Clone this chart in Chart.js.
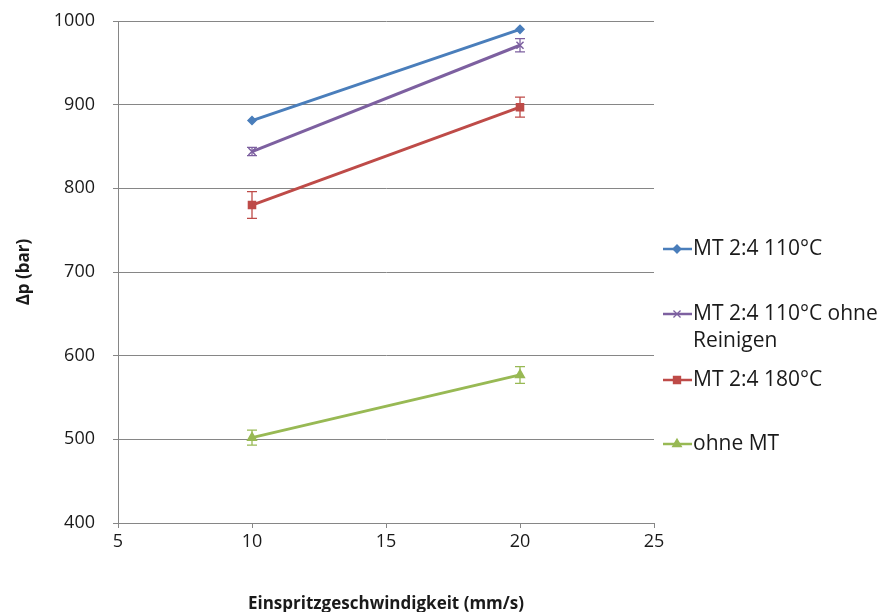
<!DOCTYPE html>
<html>
<head>
<meta charset="utf-8">
<script src="https://cdn.jsdelivr.net/npm/chart.js@4"></script>
<style>
  html, body { margin: 0; padding: 0; background: #fff; }
  #wrap { width: 881px; height: 612px; }
</style>
</head>
<body>
<div id="wrap"><canvas id="chart" width="881" height="612"></canvas></div>
<script>
// data
const speeds = [10, 20];
const seriesNames = ['MT 2:4 110°C', 'MT 2:4 110°C ohne Reinigen', 'MT 2:4 180°C', 'ohne MT'];
const blueValues = [881, 990];
const blueErrors = [0, 0];
const purpleValues = [844, 971];
const purpleErrors = [5, 8];
const redValues = [780, 897];
const redErrors = [16, 12];
const greenValues = [502, 577];
const greenErrors = [9, 10];
const xTicks = [5, 10, 15, 20, 25];
const yTicks = [400, 500, 600, 700, 800, 900, 1000];

const colors = ['#4A7EBB', '#7D60A0', '#BE4B48', '#98B954'];
const markers = ['rectRot', 'crossRot', 'rect', 'triangle'];
const markerSizes = [4, 5, 5, 5];
const legendLines = [['MT 2:4 110°C'], ['MT 2:4 110°C ohne', 'Reinigen'], ['MT 2:4 180°C'], ['ohne MT']];

function points(vals) {
  return speeds.map((s, i) => ({ x: s, y: vals[i] }));
}

const allValues = [blueValues, purpleValues, redValues, greenValues];
const allErrors = [blueErrors, purpleErrors, redErrors, greenErrors];

// draws the error bars through the scales
const errorBars = {
  id: 'errorBars',
  afterDatasetsDraw(chart) {
    const ctx = chart.ctx;
    const xs = chart.scales.x, ys = chart.scales.y;
    ctx.save();
    allValues.forEach((vals, d) => {
      ctx.strokeStyle = colors[d];
      ctx.lineWidth = 1.3;
      vals.forEach((v, i) => {
        const e = allErrors[d][i];
        if (!e) return;
        const px = xs.getPixelForValue(speeds[i]);
        const top = ys.getPixelForValue(v + e);
        const bot = ys.getPixelForValue(v - e);
        ctx.beginPath();
        ctx.moveTo(px, top); ctx.lineTo(px, bot);
        ctx.moveTo(px - 5, top); ctx.lineTo(px + 5, top);
        ctx.moveTo(px - 5, bot); ctx.lineTo(px + 5, bot);
        ctx.stroke();
      });
    });
    ctx.restore();
  }
};

// legend on the right, like the original
const sideLegend = {
  id: 'sideLegend',
  afterDraw(chart) {
    const ctx = chart.ctx;
    const rowY = [249, 314, 380, 444];
    ctx.save();
    ctx.font = '21px "Open Sans", sans-serif';
    ctx.textBaseline = 'middle';
    legendLines.forEach((lines, i) => {
      const y = rowY[i];
      ctx.strokeStyle = colors[i];
      ctx.lineWidth = 2.5;
      ctx.beginPath();
      ctx.moveTo(663, y); ctx.lineTo(692, y);
      ctx.stroke();
      ctx.fillStyle = colors[i];
      ctx.lineWidth = 1.3;
      Chart.helpers.drawPoint(ctx, {
        pointStyle: markers[i], radius: markerSizes[i], borderWidth: 1.3
      }, 677, y);
      ctx.fillStyle = '#1a1a1a';
      lines.forEach((t, k) => ctx.fillText(t, 693, y + k * 27));
    });
    ctx.restore();
  }
};

const ctx = document.getElementById('chart').getContext('2d');
new Chart(ctx, {
  type: 'scatter',
  data: {
    datasets: allValues.map((vals, i) => ({
      label: seriesNames[i],
      data: points(vals),
      showLine: true,
      borderColor: colors[i],
      backgroundColor: colors[i],
      borderWidth: 3,
      pointStyle: markers[i],
      pointRadius: markerSizes[i],
      pointBorderWidth: 1.5,
      pointBorderColor: colors[i],
      pointBackgroundColor: colors[i]
    }))
  },
  options: {
    responsive: false,
    animation: false,
    layout: { padding: { left: 10, right: 227, top: 21, bottom: 0 } },
    plugins: { legend: { display: false }, tooltip: { enabled: false } },
    scales: {
      x: {
        type: 'linear',
        min: 5, max: 25,
        afterBuildTicks(scale) { scale.ticks = xTicks.map(v => ({ value: v })); },
        afterFit(scale) { scale.height = 612 - 523; },
        border: { display: true, color: '#868686', width: 1 },
        grid: { drawOnChartArea: false, drawTicks: true, tickLength: 5, color: '#868686' },
        ticks: { color: '#1a1a1a', font: { family: '"Open Sans", sans-serif', size: 18 }, padding: 3 },
        title: {
          display: true, text: 'Einspritzgeschwindigkeit (mm/s)', color: '#1a1a1a',
          font: { family: '"Open Sans", sans-serif', size: 17, weight: 'bold' }, padding: { top: 4, bottom: -2 }
        }
      },
      y: {
        min: 400, max: 1000,
        afterBuildTicks(scale) { scale.ticks = yTicks.map(v => ({ value: v })); },
        afterFit(scale) { scale.width = 108; scale.paddingTop = 0; scale.paddingBottom = 0; },
        border: { display: true, color: '#868686', width: 1 },
        grid: { drawTicks: true, tickLength: 5, color: '#868686' },
        ticks: {
          color: '#1a1a1a', font: { family: '"Open Sans", sans-serif', size: 18 }, padding: 18,
          callback: v => String(v)
        },
        title: {
          display: true, text: 'Δp (bar)', color: '#1a1a1a',
          font: { family: '"Open Sans", sans-serif', size: 17, weight: 'bold' }, padding: { bottom: 10 }
        }
      }
    }
  },
  plugins: [errorBars, sideLegend]
});
</script>
</body>
</html>
